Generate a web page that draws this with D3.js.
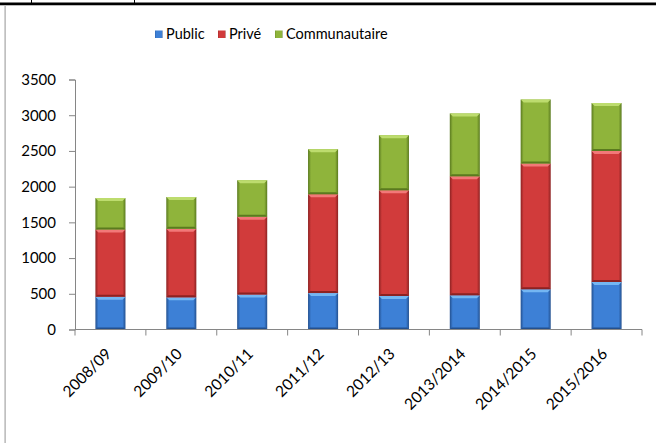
<!DOCTYPE html>
<html>
<head>
<meta charset="utf-8">
<script src="https://cdn.jsdelivr.net/npm/d3@7"></script>
<style>
  body { margin: 0; background: #fff; }
  svg { display: block; font-family: Lato, "Open Sans", sans-serif; }
</style>
</head>
<body>
<div id="chart-container"></div>
<script>
// Data
const years = ["2008/09", "2009/10", "2010/11", "2011/12", "2012/13", "2013/2014", "2014/2015", "2015/2016"];
const publicVals = [460, 450, 490, 510, 470, 480, 565, 665];
const priveVals = [940, 960, 1090, 1385, 1480, 1665, 1760, 1835];
const communVals = [440, 445, 510, 630, 770, 880, 895, 670];
const seriesNames = ["Public", "Privé", "Communautaire"];
const yTicks = [0, 500, 1000, 1500, 2000, 2500, 3000, 3500];

const colors = {
  "Public": { base: "#3d80d6", light: "#74b6f2", dark: "#23508f" },
  "Privé": { base: "#d13b3b", light: "#f27878", dark: "#8c2222" },
  "Communautaire": { base: "#8fb43b", light: "#bddc6e", dark: "#5a7a1f" }
};

const W = 656, H = 443;
const x0 = 75, x1 = 642, yBottom = 329.5, yTop = 79.5;

const rows = years.map((y, i) => ({
  year: y,
  "Public": publicVals[i],
  "Privé": priveVals[i],
  "Communautaire": communVals[i]
}));
const stacked = d3.stack().keys(seriesNames)(rows);

const svg = d3.select("#chart-container").append("svg")
  .attr("width", W).attr("height", H);

// page border bits (table line above the chart, chart frame on the left)
svg.append("rect").attr("x", 0).attr("y", 2.5).attr("width", W).attr("height", 2.5).attr("fill", "#000");
svg.append("rect").attr("x", 0).attr("y", 5).attr("width", W).attr("height", 1).attr("fill", "#bbb");
[31, 134].forEach(xx => svg.append("rect").attr("x", xx).attr("y", 0).attr("width", 1).attr("height", 3).attr("fill", "#000"));
svg.append("rect").attr("x", 4.5).attr("y", 6).attr("width", 1.2).attr("height", H - 6).attr("fill", "#a6a6a6");

// gradients for the bevelled bars
const defs = svg.append("defs");
seriesNames.forEach((name, i) => {
  const c = colors[name];
  const g = defs.append("linearGradient").attr("id", "grad" + i).attr("x1", "0").attr("x2", "1").attr("y1", "0").attr("y2", "0");
  g.append("stop").attr("offset", "0%").attr("stop-color", c.dark);
  g.append("stop").attr("offset", "10%").attr("stop-color", c.base);
  g.append("stop").attr("offset", "90%").attr("stop-color", c.base);
  g.append("stop").attr("offset", "100%").attr("stop-color", c.dark);
});

const xScale = d3.scaleBand().domain(years).range([x0, x1]).paddingInner(0.576).paddingOuter(0.288);
const xTickScale = d3.scaleBand().domain(years).range([x0, x1]);
const yScale = d3.scaleLinear().domain([0, 3500]).range([yBottom, yTop]);

// bars
const layer = svg.selectAll(".layer").data(stacked).enter().append("g").attr("class", "layer");
layer.selectAll("rect.bar").data((d, i) => d.map(v => ({ v, i })))
  .enter().append("rect").attr("class", "bar")
  .attr("x", d => xScale(d.v.data.year))
  .attr("width", xScale.bandwidth())
  .attr("y", d => yScale(d.v[1]))
  .attr("height", d => yScale(d.v[0]) - yScale(d.v[1]))
  .attr("fill", d => "url(#grad" + d.i + ")");
// top highlight and bottom shade
layer.selectAll("path.top").data((d, i) => d.map(v => ({ v, i })))
  .enter().append("path").attr("class", "top")
  .attr("d", d => {
    const bx = xScale(d.v.data.year), bw = xScale.bandwidth(), ty = yScale(d.v[1]);
    return `M${bx},${ty}H${bx + bw}L${bx + bw - 3},${ty + 3}H${bx + 3}Z`;
  })
  .attr("fill", d => colors[seriesNames[d.i]].light);
layer.selectAll("path.bot").data((d, i) => d.map(v => ({ v, i })))
  .enter().append("path").attr("class", "bot")
  .attr("d", d => {
    const bx = xScale(d.v.data.year), bw = xScale.bandwidth(), by = yScale(d.v[0]);
    return `M${bx},${by}H${bx + bw}L${bx + bw - 2},${by - 2}H${bx + 2}Z`;
  })
  .attr("fill", d => colors[seriesNames[d.i]].dark);

// y axis
const yAxis = svg.append("g").attr("transform", `translate(${x0},0)`)
  .call(d3.axisLeft(yScale).tickValues(yTicks).tickSize(6).tickPadding(13).tickFormat(d3.format("d")));
yAxis.select(".domain").attr("stroke", "#868686");
yAxis.selectAll(".tick line").attr("stroke", "#868686");
yAxis.selectAll("text").attr("fill", "#000").style("font-size", "15px").style("font-family", "Lato");

// x axis
const xAxis = svg.append("g").attr("transform", `translate(0,${yBottom})`)
  .call(d3.axisBottom(xTickScale).tickSize(0).tickFormat(""));
xAxis.select(".domain").attr("stroke", "#868686").attr("d", `M${x0},0H${x1}`);
xAxis.selectAll(".tick line").remove();
const xEdges = years.map(y => xTickScale(y)).concat([x1]);
xAxis.selectAll("line.cat").data(xEdges).enter().append("line").attr("class", "cat")
  .attr("x1", d => d).attr("x2", d => d).attr("y1", 0).attr("y2", 6)
  .attr("stroke", "#868686");
svg.selectAll("text.xlab").data(years).enter().append("text").attr("class", "xlab")
  .attr("transform", d => `translate(${xTickScale(d) + xTickScale.bandwidth() / 2 - 2},351) rotate(-45)`)
  .attr("text-anchor", "end").attr("dy", "0.35em")
  .style("font-size", "15.5px").attr("fill", "#000")
  .text(d => d);

// legend
const legendX = [155, 218, 275];
const legend = svg.selectAll(".leg").data(seriesNames).enter().append("g").attr("class", "leg")
  .attr("transform", (d, i) => `translate(${legendX[i]},0)`);
legend.append("rect").attr("x", 0).attr("y", 30.5).attr("width", 7.5).attr("height", 7.5)
  .attr("fill", (d, i) => "url(#grad" + i + ")");
legend.append("text").attr("x", 11).attr("y", 39)
  .style("font-size", "14.5px").attr("fill", "#000").text(d => d);
</script>
</body>
</html>
